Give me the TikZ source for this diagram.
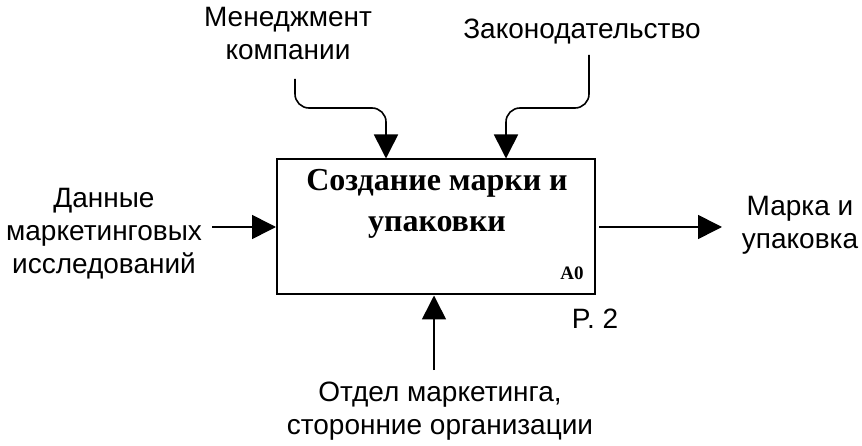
\documentclass[tikz,border=0pt]{standalone}
\usepackage{fontspec}
\setmainfont{Liberation Sans}
\newfontfamily\titlefont{Liberation Serif}
\usetikzlibrary{arrows.meta}
\begin{document}
\begin{tikzpicture}[x=1pt,y=-1pt,
  lbl/.style={align=center,font=\fontsize{28}{33}\selectfont,inner sep=0pt},
  conn/.style={line width=1.6pt,-{Triangle[length=24pt,width=24pt]}},
  rc/.style={rounded corners=14pt}]
\useasboundingbox (0,0) rectangle (862,446);
\node[draw,line width=2pt,minimum width=318pt,minimum height=135pt,inner sep=0pt] (box) at (436,227) {};
\node[align=center,font=\titlefont\bfseries\fontsize{32}{41}\selectfont,inner sep=0pt] (title) at (437,204) {Создание марки и\\упаковки};
\node[font=\fontsize{19}{20}\selectfont\titlefont\bfseries,inner sep=0pt] (a0) at (572,273) {A0};
\node[lbl] (p2) at (595,319) {P. 2};
\node[lbl] (mgmt) at (288,34) {Менеджмент\\компании};
\node[lbl] (law) at (582,32) {Законодательство};
\node[lbl] (inp) at (104,234) {Данные\\маркетинговых\\исследований};
\node[lbl] (out) at (800,225) {Марка и\\упаковка};
\node[lbl] (mech) at (440,411) {Отдел маркетинга,\\сторонние организации};
\coordinate (m1) at (295,79);
\coordinate (l1) at (589,55);
\coordinate (i1) at (212,227);
\coordinate (o1) at (722,227);
\coordinate (b1) at (434,370);
\draw[conn,rc] (m1) -- (295,108) -- (386,108) -- (386,0 |- box.north);
\draw[conn,rc] (l1) -- (589,108) -- (506,108) -- (506,0 |- box.north);
\draw[conn] (i1) -- (box.west);
\draw[conn] (box.east) ++(3,0) -- (o1);
\draw[conn] (b1) -- (434,0 |- box.south);
\end{tikzpicture}
\end{document}
